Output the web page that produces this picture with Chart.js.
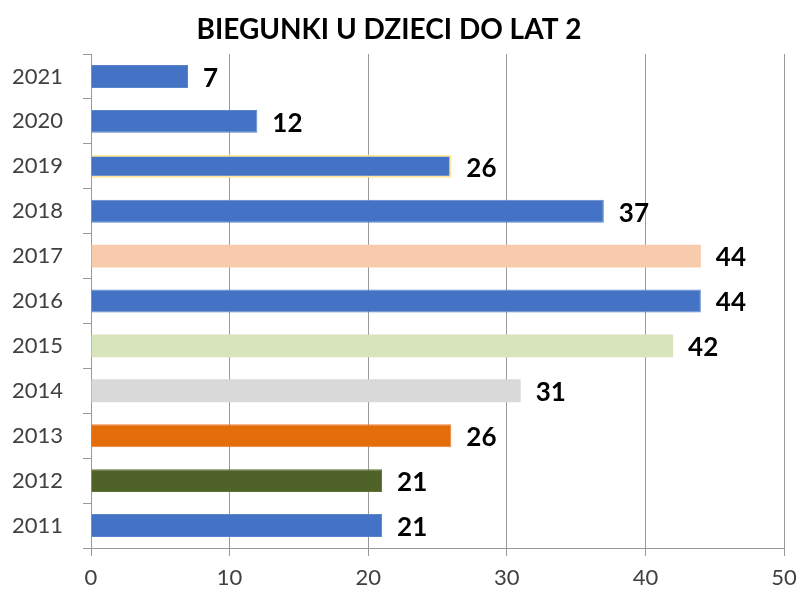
<!DOCTYPE html>
<html>
<head>
<meta charset="utf-8">
<script src="https://cdn.jsdelivr.net/npm/chart.js@4/dist/chart.umd.min.js"></script>
<style>
html,body{margin:0;padding:0;background:#fff;}
#wrap{width:801px;height:591px;position:relative;}
</style>
</head>
<body>
<div id="wrap"><canvas id="c" width="801" height="591"></canvas></div>
<script>
const title = 'BIEGUNKI U DZIECI DO LAT 2';
const years = ['2021','2020','2019','2018','2017','2016','2015','2014','2013','2012','2011'];
const cases = [7, 12, 26, 37, 44, 44, 42, 31, 26, 21, 21];
const barColors = ['#4472C4','#4472C4','#4472C4','#4472C4','#F8CBAD','#4472C4','#D8E4BC','#D9D9D9','#E46C0A','#4F6228','#4472C4'];
const barBorders = ['#5B84CC','#5B84CC','#FFE699','#5B84CC','#F8CBAD','#5B84CC','#D8E4BC','#D0D0D0','#E9803A','#607435','#5B84CC'];
const borderWidths = [1,1,2,1,0,1,0,0,1,1,1];
const xTicks = [0, 10, 20, 30, 40, 50];

const titlePlugin = {
  id: 'customTitle',
  afterDraw(chart) {
    const ctx = chart.ctx;
    ctx.save();
    ctx.font = 'bold 28px Lato';
    ctx.fillStyle = '#000';
    ctx.textAlign = 'center';
    ctx.textBaseline = 'middle';
    ctx.fillText(title, 389, 30);
    ctx.restore();
  }
};

const labelPlugin = {
  id: 'valueLabels',
  afterDatasetsDraw(chart) {
    const ctx = chart.ctx;
    const meta = chart.getDatasetMeta(0);
    ctx.save();
    ctx.font = 'bold 26px Lato';
    ctx.fillStyle = '#000';
    ctx.textAlign = 'left';
    ctx.textBaseline = 'middle';
    meta.data.forEach((bar, i) => {
      ctx.fillText(String(cases[i]), bar.x + 15, bar.y + 2);
    });
    ctx.restore();
  }
};

new Chart(document.getElementById('c'), {
  type: 'bar',
  data: {
    labels: years,
    datasets: [{
      data: cases,
      backgroundColor: barColors,
      borderColor: barBorders,
      borderWidth: borderWidths,
      categoryPercentage: 1,
      barPercentage: 0.51
    }]
  },
  options: {
    indexAxis: 'y',
    responsive: false,
    animation: false,
    devicePixelRatio: 1,
    layout: { padding: { top: 54, right: 17, left: 0, bottom: 0 } },
    plugins: {
      legend: { display: false },
      title: { display: false },
      tooltip: { enabled: false }
    },
    scales: {
      x: {
        min: 0,
        max: 50,
        afterBuildTicks(scale) { scale.ticks = xTicks.map(v => ({ value: v })); },
        afterFit(scale) { scale.height = 43; scale.paddingLeft = 0; scale.paddingRight = 0; },
        grid: { color: '#999999', lineWidth: 1, tickLength: 8, drawTicks: true },
        border: { color: '#999999', width: 1 },
        ticks: { color: '#404040', font: { family: 'Lato', size: 22 }, padding: 9 }
      },
      y: {
        afterFit(scale) { scale.width = 91; scale.paddingTop = 0; scale.paddingBottom = 0; },
        grid: { drawOnChartArea: false, color: '#999999', tickLength: 8, offset: true },
        border: { color: '#999999', width: 1 },
        ticks: { color: '#404040', font: { family: 'Lato', size: 22 }, padding: 20 }
      }
    }
  },
  plugins: [titlePlugin, labelPlugin]
});
</script>
</body>
</html>
